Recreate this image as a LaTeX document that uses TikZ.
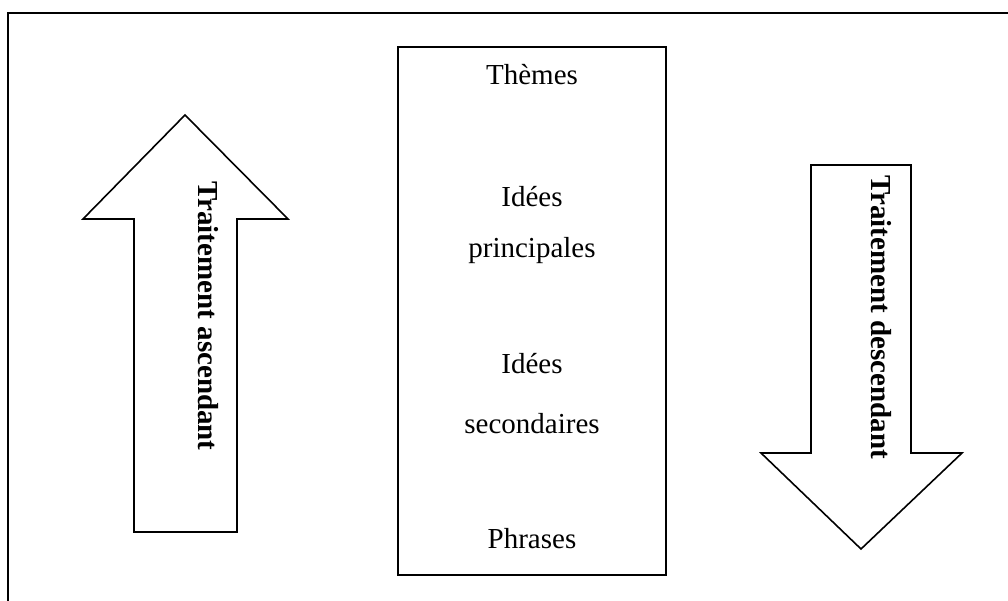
\documentclass[tikz,border=0pt]{standalone}
\usepackage{fontspec}
\setmainfont{Liberation Serif}
\begin{document}
\begin{tikzpicture}[x=1pt,y=-1pt,line join=miter,
  outline/.style={draw=black,line width=1.6pt},
  frameline/.style={draw=black,line width=2pt},
  lbl/.style={font=\fontsize{29}{34}\selectfont,inner sep=0pt,anchor=base},
  vlbl/.style={font=\fontsize{29}{34}\selectfont\bfseries,inner sep=0pt,anchor=base,rotate=-90}]
\useasboundingbox (0,0) rectangle (1008,601);
% outer frame (only left and top edges visible)
\draw[frameline] (8,603) -- (8,13) -- (1010,13);
% left arrow (up)
\draw[outline] (185,115) -- (288,219) -- (237,219) -- (237,532) -- (134,532) -- (134,219) -- (83,219) -- cycle;
% right arrow (down)
\draw[outline] (811,165) -- (911,165) -- (911,453) -- (962,453) -- (861,549) -- (761,453) -- (811,453) -- cycle;
% centre box
\draw[outline] (398,47) rectangle (666,575);
\node[lbl] (themes) at (532,85) {Thèmes};
\node[lbl] (ip1) at (532,207) {Idées};
\node[lbl] (ip2) at (532,258) {principales};
\node[lbl] (is1) at (532,373) {Idées};
\node[lbl] (is2) at (532,433) {secondaires};
\node[lbl] (phr) at (532,548) {Phrases};
% arrow labels
\node[vlbl] (asc) at (198,316) {Traitement ascendant};
\node[vlbl] (desc) at (871,317) {Traitement descendant};
\end{tikzpicture}
\end{document}
